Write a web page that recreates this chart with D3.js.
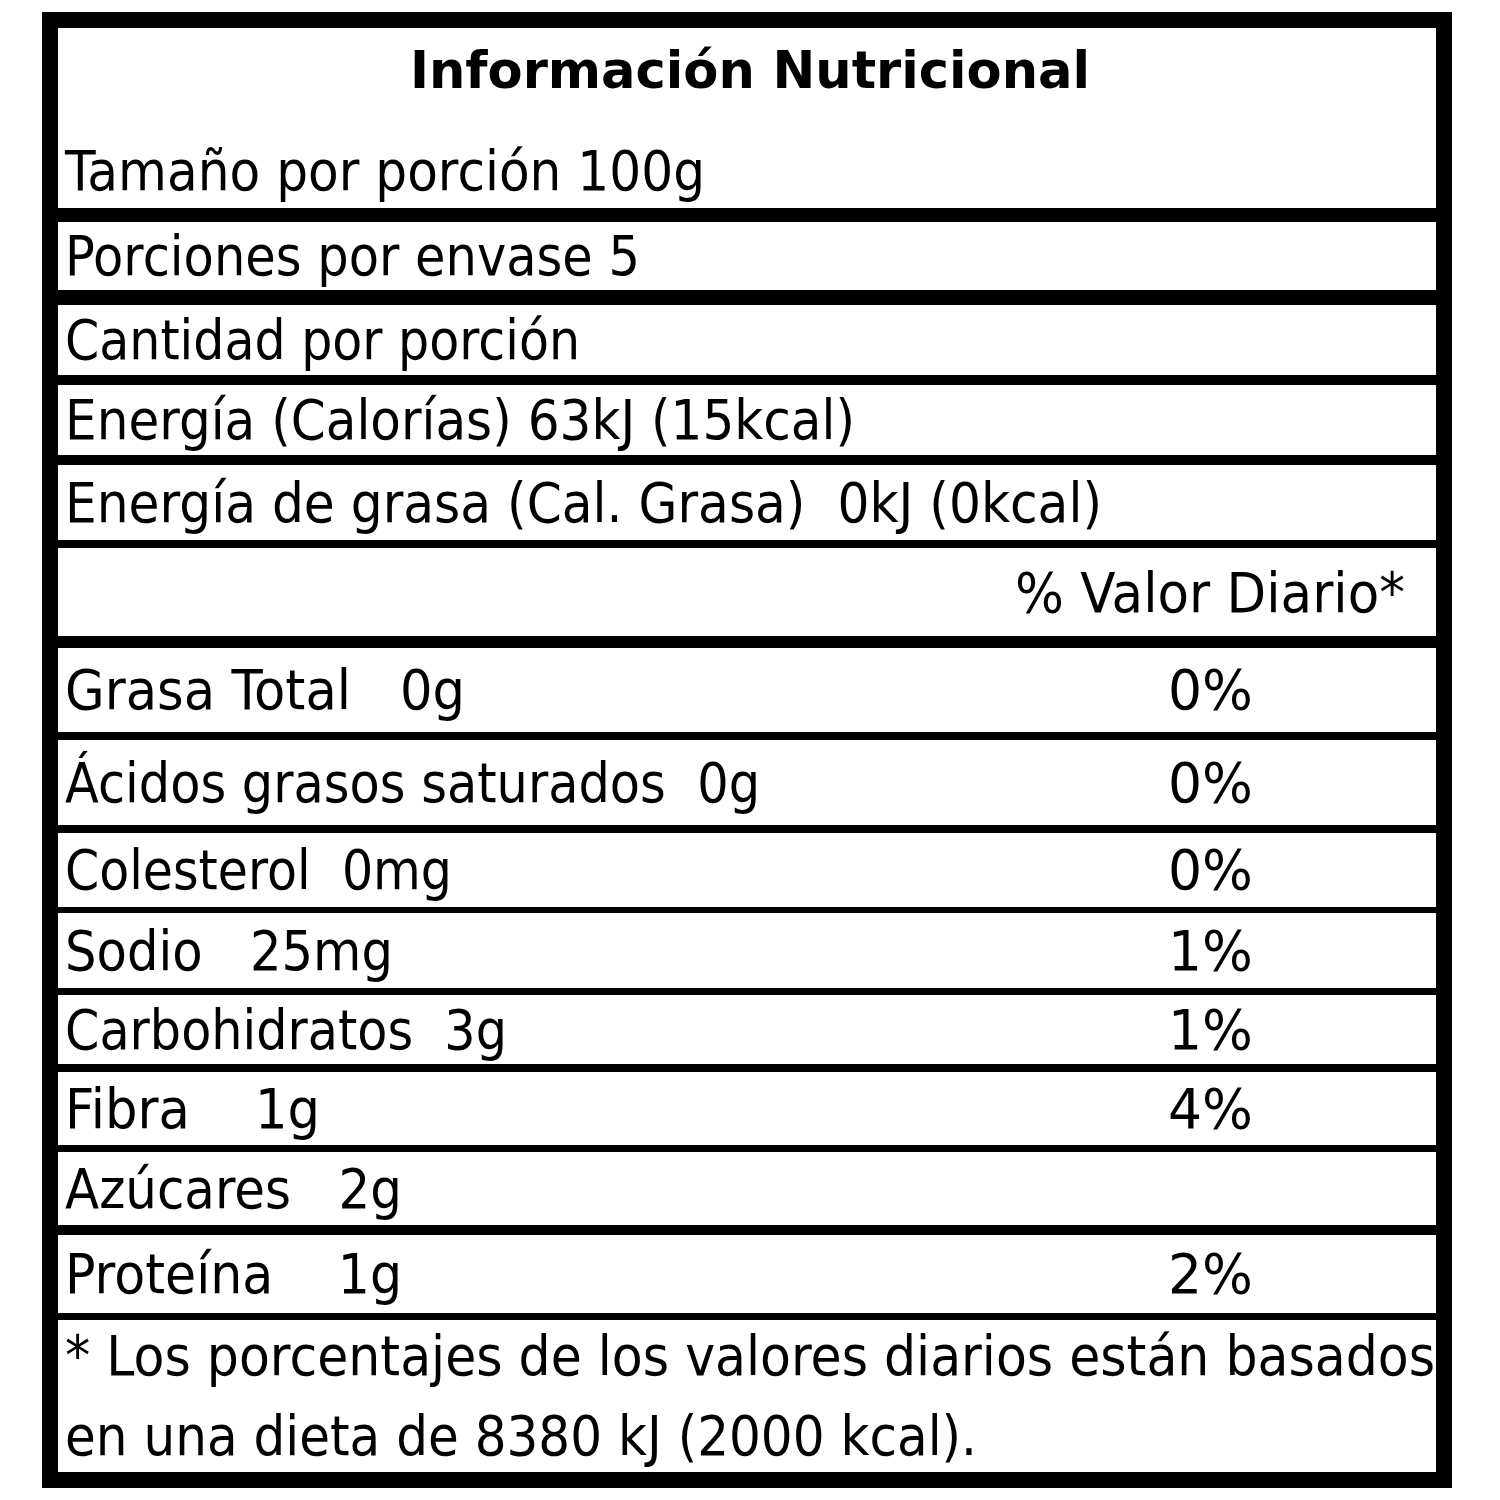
<!DOCTYPE html>
<html><head><meta charset="utf-8">
<script src="https://cdn.jsdelivr.net/npm/d3@7"></script>
<style>body{margin:0;background:#fff} text{white-space:pre}</style></head>
<body><svg id="c" width="1500" height="1500"></svg>
<script>
const title = "Información Nutricional";
const headerLines = ["Tamaño por porción 100g"];
const simpleRows = ["Porciones por envase 5","Cantidad por porción","Energía (Calorías) 63kJ (15kcal)","Energía de grasa (Cal. Grasa)  0kJ (0kcal)"];
const dvHeader = "% Valor Diario*";
const nutrients = ["Grasa Total   0g","Ácidos grasos saturados  0g","Colesterol  0mg","Sodio   25mg","Carbohidratos  3g","Fibra    1g","Azúcares   2g","Proteína    1g"];
const percents = ["0%","0%","0%","1%","1%","4%","","2%"];
const footnote = ["* Los porcentajes de los valores diarios están basados","en una dieta de 8380 kJ (2000 kcal)."];

const svg = d3.select("#c");
const font = "DejaVu Sans, Verdana, sans-serif";
const rows = [
 [28,208],[222,290],[305,375],[385,455],[465,540],[548,636],
 [648,732],[740,825],[833,907],[913,988],[995,1064],[1072,1145],[1152,1225],[1235,1313],[1320,1472]
];
svg.append("rect").attr("x",42).attr("y",12).attr("width",1410).attr("height",1476).attr("fill","#000");
svg.selectAll("rect.row").data(rows).join("rect").attr("class","row")
 .attr("x",58).attr("width",1378).attr("y",d=>d[0]).attr("height",d=>d[1]-d[0]).attr("fill","#fff");
const t=(x,y,s,o={})=>svg.append("text").attr("x",x).attr("y",y).text(s)
 .attr("xml:space","preserve")
 .attr("font-family",font).attr("font-size",o.fs||55).attr("font-weight",o.fw||"normal")
 .attr("text-anchor",o.a||"start").attr("fill","#000")
 .attr("textLength",o.tl||null).attr("lengthAdjust","spacingAndGlyphs");
t(750,88,title,{fw:"bold",a:"middle",fs:52,tl:680});
t(65,190,headerLines[0],{tl:640});
const simpleTL=[575,515,790,1037];
simpleRows.forEach((s,i)=>{const r=rows[i+1]; t(65,(r[0]+r[1])/2+19,s,{tl:simpleTL[i]});});
t(1405,612,dvHeader,{a:"end",tl:390});
const nTL=[400,695,387,328,442,255,337,337];
nutrients.forEach((s,i)=>{const r=rows[i+6]; const y=(r[0]+r[1])/2+19;
 t(65,y,s,{tl:nTL[i]}); if(percents[i]) t(1253,y,percents[i],{a:"end",tl:85});});
t(65,1375,footnote[0],{tl:1370});
t(65,1455,footnote[1],{tl:912});
</script></body></html>
